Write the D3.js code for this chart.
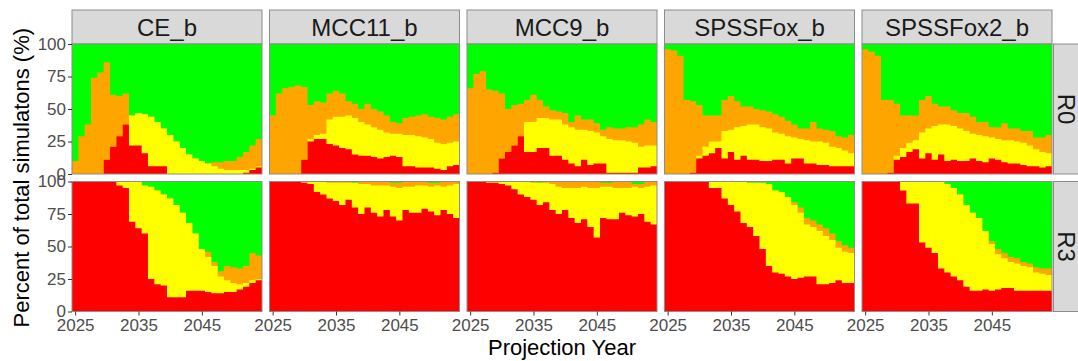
<!DOCTYPE html>
<html>
<head>
<meta charset="utf-8">
<script src="https://cdn.jsdelivr.net/npm/d3@7"></script>
<style>
body { margin: 0; background: #fff; }
text { font-family: "Liberation Sans", Arial, sans-serif; }
</style>
</head>
<body>
<script>
var years = [2025,2026,2027,2028,2029,2030,2031,2032,2033,2034,2035,2036,2037,2038,2039,
             2040,2041,2042,2043,2044,2045,2046,2047,2048,2049,2050,2051,2052,2053,2054];
var models = ["CE_b", "MCC11_b", "MCC9_b", "SPSSFox_b", "SPSSFox2_b"];
var scenarios = ["R0", "R3"];
var xTicks = [2025, 2035, 2045];
var yTicks = [0, 25, 50, 75, 100];

// percent of simulations in each class, per projection year
var CE_b_R0_red    = [0,0,0,0,0,11,21,29,38,22,22,16,6,6,6,0,0,0,0,0,0,0,0,0,0,0,0,1,3,5];
var CE_b_R0_yellow = [0,0,0,0,0,0,0,0,0,23,25,30,38,34,29,30,25,20,15,12,10,8,6,4,3,3,3,2,1,1];
var CE_b_R0_orange = [10,29,38,74,78,75,40,31,24,0,0,0,0,0,0,0,0,0,0,0,0,0,3,5,7,7,10,14,18,21];
var CE_b_R3_red    = [100,100,100,100,100,100,100,97,95,69,64,60,25,21,20,11,11,11,16,16,16,15,14,14,15,15,17,19,22,24];
var CE_b_R3_yellow = [0,0,0,0,0,0,0,3,5,31,36,37,71,72,70,76,71,65,52,44,32,27,21,13,9,7,4,3,2,1];
var CE_b_R3_orange = [0,0,0,0,0,0,0,0,0,0,0,0,0,0,0,0,0,0,0,0,0,4,3,4,11,12,12,13,21,18];

var MCC11_b_R0_red    = [0,0,0,0,0,11,25,27,27,23,22,20,19,15,14,14,13,12,13,14,13,6,6,5,5,5,4,3,6,7];
var MCC11_b_R0_yellow = [0,0,0,0,0,0,2,3,4,19,22,24,26,28,26,24,23,22,19,17,18,24,24,24,23,22,20,20,18,18];
var MCC11_b_R0_orange = [45,62,66,67,68,56,26,26,24,20,20,18,11,11,10,16,14,14,13,9,8,13,14,16,18,17,19,19,20,21];
var MCC11_b_R3_red    = [100,100,100,100,100,99,98,92,90,87,85,82,86,80,75,80,76,73,78,73,70,78,76,76,79,77,74,78,75,72];
var MCC11_b_R3_yellow = [0,0,0,0,0,1,2,8,10,12,14,17,13,19,23,18,21,24,19,23,25,18,20,21,18,19,23,18,22,26];
var MCC11_b_R3_orange = [0,0,0,0,0,0,0,0,0,1,1,1,1,0,2,2,3,3,3,3,4,4,4,3,3,3,2,4,3,2];

var MCC9_b_R0_red    = [0,0,0,0,1,12,17,22,29,17,17,20,20,14,14,11,8,6,11,7,8,8,1,1,1,1,1,5,5,6];
var MCC9_b_R0_yellow = [0,0,0,0,0,0,0,0,0,23,23,23,23,28,28,27,28,28,23,26,24,21,26,25,25,24,23,16,17,16];
var MCC9_b_R0_orange = [66,77,79,65,63,50,33,31,25,17,21,14,9,7,6,9,4,11,8,9,7,5,9,9,9,11,12,17,20,18];
var MCC9_b_R3_red    = [100,100,100,99,99,98,97,94,90,88,86,82,84,78,75,78,72,68,71,65,57,72,71,71,76,74,73,75,69,67];
var MCC9_b_R3_yellow = [0,0,0,1,1,2,3,6,10,12,13,17,15,20,21,17,23,27,25,30,38,24,25,24,19,21,23,20,27,30];
var MCC9_b_R3_orange = [0,0,0,0,0,0,0,0,0,0,1,0,1,2,4,5,5,5,4,5,5,3,3,5,5,5,2,3,4,3];

var SPSSFox_b_R0_red    = [0,0,0,0,1,12,14,16,20,12,17,11,14,11,11,10,10,11,11,8,12,12,8,8,7,7,6,6,6,6];
var SPSSFox_b_R0_yellow = [0,0,0,0,0,2,7,9,5,21,17,25,23,27,27,26,25,21,20,21,16,15,18,17,18,17,15,14,12,10];
var SPSSFox_b_R0_orange = [96,95,91,57,55,39,24,20,20,24,26,20,15,14,12,13,13,14,13,12,10,8,9,15,10,10,12,9,10,14];
var SPSSFox_b_R3_red    = [100,100,100,100,100,100,100,95,95,87,82,77,68,65,58,48,35,30,29,27,25,26,27,27,21,21,22,24,22,22];
var SPSSFox_b_R3_yellow = [0,0,0,0,0,0,0,5,5,13,18,23,32,34,41,51,63,63,63,61,57,50,40,38,41,37,33,25,24,23];
var SPSSFox_b_R3_orange = [0,0,0,0,0,0,0,0,0,0,0,0,0,0,0,0,0,0,0,0,2,4,5,5,5,6,5,5,5,4];

var SPSSFox2_b_R0_red    = [0,0,0,0,1,11,13,17,19,12,16,11,15,10,11,10,10,12,10,9,12,11,9,8,8,7,6,6,5,6];
var SPSSFox2_b_R0_yellow = [0,0,0,0,0,3,7,7,7,20,19,26,23,28,26,25,23,19,20,20,16,16,17,18,17,17,16,13,12,10];
var SPSSFox2_b_R0_orange = [96,94,91,57,56,40,25,21,19,25,25,17,14,14,12,12,14,13,10,11,8,9,13,9,10,9,11,9,11,14];
var SPSSFox2_b_R3_red    = [100,100,100,100,100,100,93,83,83,53,49,45,33,30,27,24,19,16,16,17,16,17,18,18,16,16,16,16,16,16];
var SPSSFox2_b_R3_yellow = [0,0,0,0,0,0,7,17,17,47,51,55,67,68,68,66,63,60,56,45,36,27,23,20,21,19,18,14,13,12];
var SPSSFox2_b_R3_orange = [0,0,0,0,0,0,0,0,0,0,0,0,0,0,0,0,0,0,0,0,2,4,4,4,4,3,3,4,4,5];

var series = {
  "CE_b":       { R0: [CE_b_R0_red, CE_b_R0_yellow, CE_b_R0_orange],
                  R3: [CE_b_R3_red, CE_b_R3_yellow, CE_b_R3_orange] },
  "MCC11_b":    { R0: [MCC11_b_R0_red, MCC11_b_R0_yellow, MCC11_b_R0_orange],
                  R3: [MCC11_b_R3_red, MCC11_b_R3_yellow, MCC11_b_R3_orange] },
  "MCC9_b":     { R0: [MCC9_b_R0_red, MCC9_b_R0_yellow, MCC9_b_R0_orange],
                  R3: [MCC9_b_R3_red, MCC9_b_R3_yellow, MCC9_b_R3_orange] },
  "SPSSFox_b":  { R0: [SPSSFox_b_R0_red, SPSSFox_b_R0_yellow, SPSSFox_b_R0_orange],
                  R3: [SPSSFox_b_R3_red, SPSSFox_b_R3_yellow, SPSSFox_b_R3_orange] },
  "SPSSFox2_b": { R0: [SPSSFox2_b_R0_red, SPSSFox2_b_R0_yellow, SPSSFox2_b_R0_orange],
                  R3: [SPSSFox2_b_R3_red, SPSSFox2_b_R3_yellow, SPSSFox2_b_R3_orange] }
};

var colors = { red: "#FF0000", yellow: "#FFFF00", orange: "#FFA500", green: "#00FF00" };

var width = 1078, height = 361;
var plotLeft = 72, plotTop = 44,
    panelW = 190, panelH = 130,
    gapX = 7.5, gapY = 7.5,
    stripH = 34, border = "#8c8c8c";
var gridW = models.length * panelW + (models.length - 1) * gapX;

var svg = d3.select("body").append("svg")
    .attr("width", width)
    .attr("height", height);

var x = d3.scaleLinear().domain([2024.5, 2054.5]).range([0, panelW]);
var y = d3.scaleLinear().domain([0, 100]).range([panelH, 0]);

// stack in order red (bottom), yellow, orange, green (top)
var stack = d3.stack().keys(["red", "yellow", "orange", "green"]);

// each layer is painted from 0 to its cumulative top, top layer first
var area = d3.area()
    .x(function(d) { return x(d.data.year - 0.5); })
    .y0(y(0))
    .y1(function(d) { return y(d[1]); })
    .curve(d3.curveStepAfter);

var rowsFor = function(vals) {
  var rows = years.map(function(yr, i) {
    var r = vals[0][i], ye = vals[1][i], o = vals[2][i];
    return { year: yr, red: r, yellow: ye, orange: o, green: 100 - r - ye - o };
  });
  // closing point so the last year's step reaches the panel edge
  var last = rows[rows.length - 1];
  rows.push({ year: last.year + 1, red: last.red, yellow: last.yellow, orange: last.orange, green: last.green });
  return rows;
};

var styleAxis = function(a) {
  a.select(".domain").remove();
  a.selectAll("line").style("stroke", "#333");
  a.selectAll("text").style("font-size", "17px").style("fill", "#4d4d4d")
      .style("font-family", "'Liberation Sans', Arial, sans-serif");
};

models.forEach(function(m, c) {
  var px = plotLeft + c * (panelW + gapX);

  // top strip
  svg.append("rect")
      .attr("x", px).attr("y", plotTop - stripH)
      .attr("width", panelW).attr("height", stripH)
      .style("fill", "#D9D9D9").style("stroke", border);
  svg.append("text")
      .attr("x", px + panelW / 2).attr("y", plotTop - stripH / 2)
      .attr("dy", "0.36em")
      .attr("text-anchor", "middle")
      .style("font-size", "24px").style("fill", "#1a1a1a")
      .text(m);

  scenarios.forEach(function(s, r) {
    var py = plotTop + r * (panelH + gapY);
    var g = svg.append("g").attr("transform", "translate(" + px + "," + py + ")");
    var layers = stack(rowsFor(series[m][s]));

    g.selectAll("path.layer")
        .data(layers.slice().reverse())
      .enter().append("path")
        .attr("class", "layer")
        .attr("d", area)
        .style("fill", function(d) { return colors[d.key]; });

    g.append("rect")
        .attr("width", panelW).attr("height", panelH)
        .style("fill", "none").style("stroke", border);

    if (c == 0) {
      styleAxis(g.append("g").call(d3.axisLeft(y).tickValues(yTicks).tickSize(4).tickPadding(2)));
    }
    if (r == scenarios.length - 1) {
      styleAxis(g.append("g")
          .attr("transform", "translate(0," + panelH + ")")
          .call(d3.axisBottom(x).tickValues(xTicks).tickFormat(d3.format("d")).tickSize(4).tickPadding(3.5)));
    }
  });
});

// right strips
scenarios.forEach(function(s, r) {
  var py = plotTop + r * (panelH + gapY);
  var sx = plotLeft + gridW + 1.5;
  svg.append("rect")
      .attr("x", sx).attr("y", py)
      .attr("width", 36).attr("height", panelH)
      .style("fill", "#D9D9D9").style("stroke", border);
  svg.append("text")
      .attr("transform", "translate(" + (sx + 13) + "," + (py + panelH / 2) + ") rotate(90)")
      .attr("dy", "0.36em")
      .attr("text-anchor", "middle")
      .style("font-size", "24px").style("fill", "#1a1a1a")
      .text(s);
});

// axis titles
svg.append("text")
    .attr("transform", "translate(21," + (plotTop + panelH + gapY / 2) + ") rotate(-90)")
    .attr("dy", "0.36em")
    .attr("text-anchor", "middle")
    .style("font-size", "22px").style("fill", "#000")
    .text("Percent of total simulatons (%)");

svg.append("text")
    .attr("x", plotLeft + gridW / 2)
    .attr("y", 347)
    .attr("dy", "0.36em")
    .attr("text-anchor", "middle")
    .style("font-size", "22px").style("fill", "#000")
    .text("Projection Year");
</script>
</body>
</html>
